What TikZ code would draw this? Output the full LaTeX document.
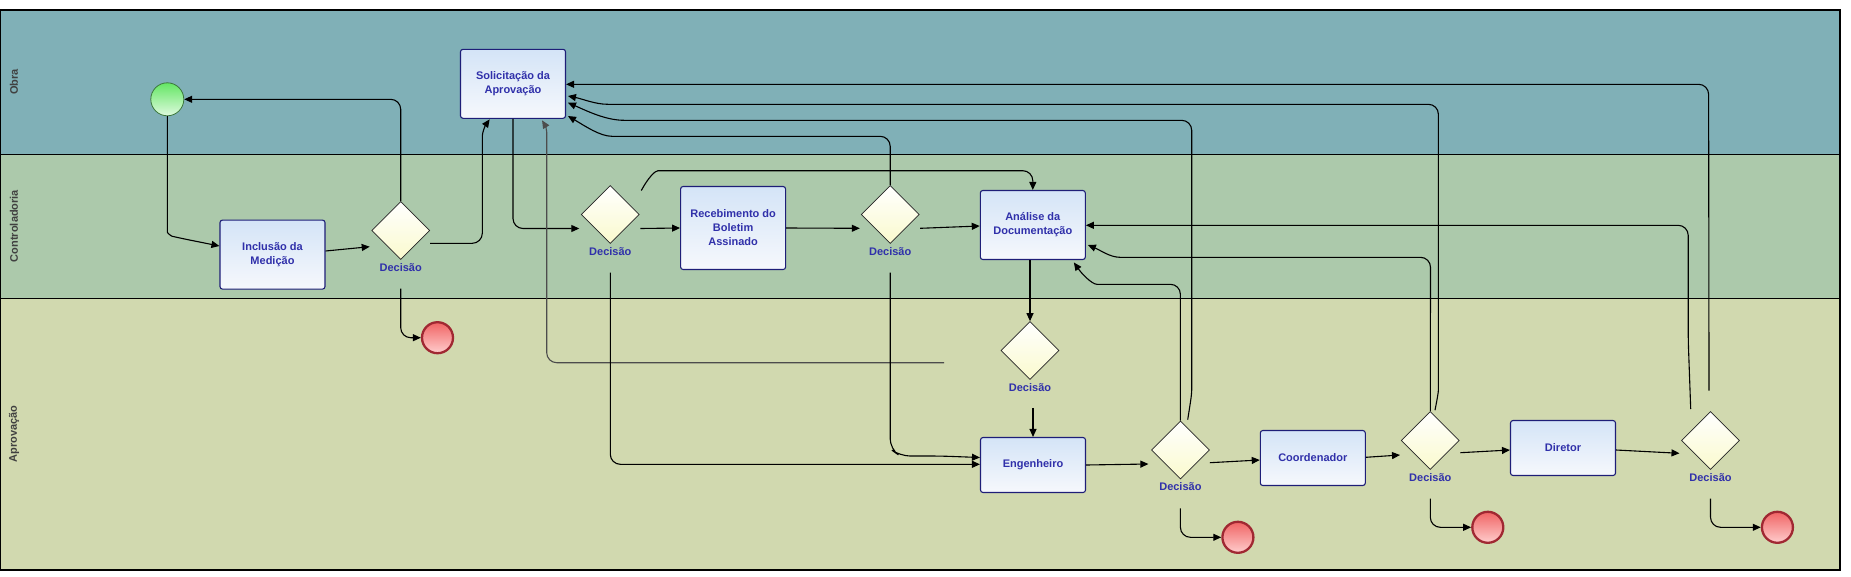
\documentclass[tikz,border=0pt]{standalone}
\usepackage{fontspec}
\setmainfont{Liberation Sans}
\usetikzlibrary{shapes.geometric,arrows.meta,calc}
\definecolor{obra}{RGB}{128,176,183}
\definecolor{contr}{RGB}{172,201,171}
\definecolor{aprov}{RGB}{209,217,175}
\definecolor{taskTop}{RGB}{212,228,247}
\definecolor{taskBot}{RGB}{246,248,252}
\definecolor{taskBorder}{RGB}{30,30,120}
\definecolor{txtBlue}{RGB}{48,48,170}
\definecolor{gwBot}{RGB}{250,250,205}
\definecolor{startTop}{RGB}{100,230,100}
\definecolor{startBot}{RGB}{222,250,222}
\definecolor{startBorder}{RGB}{60,120,60}
\definecolor{endTop}{RGB}{240,100,100}
\definecolor{endBot}{RGB}{255,205,205}
\definecolor{endBorder}{RGB}{160,40,50}
\tikzset{
  task/.style={rectangle, rounded corners=2.5pt, draw=taskBorder, line width=1.1pt,
    top color=taskTop, bottom color=taskBot, minimum width=105pt, minimum height=69pt,
    inner sep=2pt, align=center, text=txtBlue, font=\fontsize{11}{14}\selectfont\bfseries},
  gateway/.style={diamond, draw=black!85, line width=0.7pt, top color=white, bottom color=gwBot,
    minimum width=58pt, minimum height=58pt, inner sep=0pt},
  glabel/.style={text=txtBlue, font=\fontsize{11}{13}\selectfont\bfseries, inner sep=0pt},
  startev/.style={circle, draw=startBorder, line width=0.8pt, top color=startTop, bottom color=startBot,
    minimum size=33pt, inner sep=0pt},
  endev/.style={circle, draw=endBorder, line width=2.3pt, top color=endTop, bottom color=endBot,
    minimum size=31pt, inner sep=0pt},
  lanelabel/.style={rotate=90, text=black!75, font=\fontsize{11}{13}\selectfont\bfseries, inner sep=0pt},
  conn/.style={draw=black, line width=1.1pt, rounded corners=10pt, -{Triangle[length=8pt,width=7pt]}},
}
\begin{document}
\begin{tikzpicture}[x=1pt,y=-1pt]
\useasboundingbox (0,0) rectangle (1851,576);
% lanes
\fill[obra] (0,10) rectangle (1840.5,154.3);
\fill[contr] (0,154.3) rectangle (1840.5,298.3);
\fill[aprov] (0,298.3) rectangle (1840.5,570);
\draw[line width=1.3pt] (0.65,10) rectangle (1840,570);
\draw[line width=1.3pt] (0.65,154.3) -- (1840,154.3);
\draw[line width=1.3pt] (0.65,298.3) -- (1840,298.3);
\node[lanelabel] (lobra) at (14,82) {Obra};
\node[lanelabel] (lcontr) at (14,226) {Controladoria};
\node[lanelabel] (laprov) at (14,434) {Aprovação};

% tasks
\node[task] (sol) at (513,83.8) {Solicitação da\\Aprovação};
\node[task] (inc) at (272.5,254.6) {Inclusão da\\Medição};
\node[task, minimum height=83pt] (rec) at (733.1,228) {Recebimento do\\Boletim\\Assinado};
\node[task] (ana) at (1032.8,225) {Análise da\\Documentação};
\node[task, minimum height=55pt] (eng) at (1033,465) {Engenheiro};
\node[task, minimum height=55pt] (coo) at (1312.8,458) {Coordenador};
\node[task, minimum height=55pt] (dir) at (1563,448) {Diretor};

% gateways
\node[gateway] (d1) at (400.7,230.5) {};
\node[gateway] (d2) at (610.3,214.5) {};
\node[gateway] (d3) at (890.2,214.5) {};
\node[gateway] (d4) at (1030,350.5) {};
\node[gateway] (d5) at (1180.4,450) {};
\node[gateway] (d6) at (1430.3,440.5) {};
\node[gateway] (d7) at (1710.5,440.5) {};
\foreach \g in {d1,d2,d3,d4,d5,d6,d7}{
  \node[glabel] (\g l) at ($(\g.center)+(0,37)$) {Decisão};
}

% events
\node[startev] (s) at (167.3,99.3) {};
\node[endev] (e1) at (437.5,337.7) {};
\node[endev] (e5) at (1237.9,537.3) {};
\node[endev] (e6) at (1487.8,527.3) {};
\node[endev] (e7) at (1777.4,527.3) {};

\coordinate (dang) at (944,362.7);

% connectors
\draw[conn] (s.south) -- (167.3,222) .. controls (167.3,233) and (171,236) .. (182,238.5) -- ($(inc.west)+(0,-8.6)$);
\draw[conn] ($(inc.east)+(0,-3.6)$) -- ($(d1)+(-31,16.2)$);
\draw[conn] (d1.north) |- (s.east);
\draw[conn] ($(d1)+(29.5,12.8)$) -- (482.3,243.3) -- (482.3,146) .. controls (482.3,133) and (485,126) .. ($(sol.south west)+(29.7,0.5)$);
\draw[conn] ($(d1)+(0,58)$) |- (e1.west);
\draw[conn] (sol.south) |- ($(d2)+(-31,14)$);
\draw[draw=black!70, line width=1.1pt, rounded corners=10pt, -{Triangle[length=8pt,width=7pt]}] (dang) -- (546.7,362.7) -- (546.7,142) .. controls (546.7,131) and (545.5,126) .. ($(sol.south west)+(82.1,1.5)$);
\draw[conn] ($(d2)+(31,-24)$) .. controls (648,178) and (655,170.7) .. (668,170.7) -- (1032.8,170.7) -- (ana.north);
\draw[conn] ($(d2)+(30,14)$) -- (rec.west);
\draw[conn] (rec.east) -- ($(d3)+(-30.4,13.8)$);
\draw[conn] ($(d3)+(30,13.8)$) -- ($(ana.west)+(0,1)$);
\draw[conn] (d3.north) -- (890.2,136.3) -- (622,136.3) .. controls (600,136.3) and (585,126) .. ($(sol.east)+(1.9,32.2)$);
\draw[conn] (d4.north |- ana.south) -- (d4.north);
\draw[conn] ($(eng.north)+(0,-29)$) -- (eng.north);
\draw[conn] ($(d2)+(0,58.2)$) |- ($(eng.west)+(0,-0.7)$);
\draw[conn] ($(d3)+(0,58.2)$) -- (890.2,449) -- (900,456) -- (940,456) -- ($(eng.west)+(0,-7.5)$);
\draw[conn] (eng.east) -- ($(d5)+(-32,14)$);
\draw[conn] ($(d5)+(29.5,12.7)$) -- ($(coo.west)+(0,2)$);
\draw[conn] ($(coo.east)+(0,-0.7)$) -- ($(d6)+(-30.3,14.5)$);
\draw[conn] ($(d6)+(30,12.2)$) -- ($(dir.west)+(0,2)$);
\draw[conn] ($(dir.east)+(0,2)$) -- ($(d7)+(-31,12.8)$);
\draw[conn] ($(d5)+(0,58.3)$) |- (e5.west);
\draw[conn] ($(d6)+(0,58)$) |- (e6.west);
\draw[conn] ($(d7)+(0,58)$) |- (e7.west);
% returns to Analise
\draw[conn] (d5.north) -- (1180.4,284.3) -- (1107,284.3) .. controls (1092,284.3) and (1082,274) .. ($(ana.south east)+(-12,2.4)$);
\draw[conn] (d6.north) -- (1430.5,257.3) -- (1130,257.3) .. controls (1110,257.3) and (1100,250) .. ($(ana.east)+(2,20)$);
\draw[conn] ($(d7)+(-19.8,-31.5)$) -- (1688.2,340) -- (1688.2,225.3) -- ($(ana.east)+(0,0.3)$);
% returns to Solicitacao
\draw[conn] ($(d5.north)+(7.3,-1)$) .. controls (1190,405) and (1191.7,395) .. (1191.7,380) -- (1191.7,120.3) -- (634,120.3) .. controls (605,120.3) and (585,110) .. ($(sol.east)+(1.9,18.9)$);
\draw[conn] ($(d6.north)+(4.7,-1)$) .. controls (1437,400) and (1438.4,392) .. (1438.4,380) -- (1438.4,104.3) -- (618,104.3) .. controls (595,104.3) and (583,99) .. ($(sol.east)+(1.9,12.2)$);
\draw[conn] ($(d7)+(-1.5,-50)$) -- (1708.6,84.3) -- ($(sol.east)+(0,0.5)$);
\end{tikzpicture}
\end{document}
